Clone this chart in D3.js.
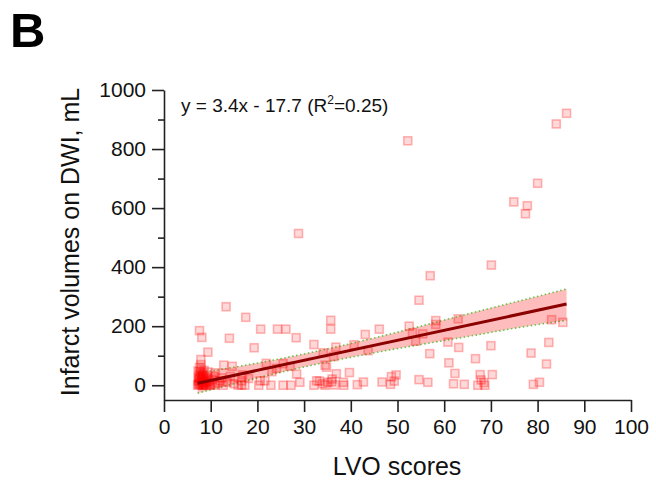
<!DOCTYPE html>
<html>
<head>
<meta charset="utf-8">
<script src="https://cdn.jsdelivr.net/npm/d3@7"></script>
<style>
  body { margin: 0; background: #fff; }
  svg { font-family: Arial, "Liberation Sans", sans-serif; }
</style>
</head>
<body>
<svg id="chart" width="656" height="487"></svg>
<script>
// LVO score (x) and infarct volume on DWI in mL (y)
const lvo = [
  86.2, 84.0, 52.2, 80.0, 74.9, 77.8, 77.4, 28.8, 70.1, 57.0,
  54.6, 13.3, 17.5, 63.0, 35.7, 58.2, 83.0, 85.4, 58.2, 52.5,
  7.6, 20.7, 24.3, 26.1, 35.7, 46.1, 43.1, 53.2, 55.4, 8.1,
  14.0, 28.3, 53.9, 60.8, 82.4, 32.1, 40.7, 70.0, 36.8, 63.1,
  19.3, 9.4, 34.1, 43.7, 78.6, 56.9, 36.3, 66.7, 7.9, 61.0,
  81.9, 21.9, 25.5, 12.8, 14.6, 27.0, 34.8, 34.5,
  62.3, 67.7, 70.3, 28.4, 36.9, 39.7, 49.7, 48.7, 16.8, 23.1,
  24.1, 18.1, 36.0, 54.6, 67.9, 29.1, 33.3, 35.1, 38.4, 42.7,
  46.7, 49.3, 56.5, 68.5, 80.4, 62.0, 34.0, 64.3, 79.1, 48.5,
  41.4, 36.5, 25.5, 27.2, 32.1, 34.5, 38.5, 67.2, 68.7, 10.9,
  12.7, 15.9, 16.6, 17.3, 20.3, 22.9, 12.0, 16.6, 20.6, 21.6,
  32.7, 35.9,
  7.2, 7.5, 7.8, 8.0, 8.2, 8.4, 7.4, 7.7, 8.0, 8.5,
  8.8, 9.0, 9.2, 9.6, 10.0, 7.3, 7.6, 8.3, 9.4, 10.3,
  10.8, 11.5, 12.3, 13.5, 14.2, 15.0, 7.9, 8.6, 9.8, 11.0,
  7.4, 7.7, 8.1, 8.4, 8.9, 7.5, 8.2, 9.1, 7.8, 8.7,
  7.3, 8.0, 9.5, 7.6, 8.4
];
const volume = [
  921, 885, 828, 684, 621, 608, 581, 514, 407, 371,
  288, 266, 230, 225, 220, 219, 222, 213, 206, 200,
  185, 190, 190, 190, 190, 190, 172, 178, 174, 162,
  159, 161, 149, 146, 145, 138, 137, 134, 129, 128,
  127, 112, 110, 117, 109, 107, 97, 90, 87, 76,
  72, 74, 73, 68, 64, 64, 61, 68,
  40, 36, 36, 38, 39, 43, 35, 29, 35, 46,
  57, 23, 21, 19, 18, 10, 14, 10, 10, 11,
  11, 14, 10, 9, 10, 5, 5, 3, 3, 3,
  2, 1, 0, 0, 0, 0, 0, 0, 0, 0,
  0, 0, 1, 0, 0, 0, 15, 15, 15, 15,
  15, 12,
  0, 5, 2, 10, 0, 20, 30, 45, 55, 35,
  8, 0, 25, 12, 4, 15, 60, 40, 45, 20,
  30, 8, 25, 10, 30, 5, 70, 50, 0, 42,
  3, 12, 18, 6, 14, 22, 28, 9, 38, 2,
  48, 33, 16, 25, 0
];

// fitted line and its confidence band
const fitX = [7.2, 86.2];
const fitY = [7, 275];
const bandX = [7.2, 15, 25, 35, 45, 55, 65, 75, 86.2];
const bandUpper = [41, 61, 90, 123, 160, 200, 241, 281, 326];
const bandLower = [-27, 5, 44, 79, 110, 138, 165, 193, 220];

const xTicks = [0, 10, 20, 30, 40, 50, 60, 70, 80, 90, 100];
const yTicks = [0, 200, 400, 600, 800, 1000];
const yMinorTicks = [100, 300, 500, 700, 900];

const svg = d3.select("#chart");

const x = d3.scaleLinear().domain([0, 100]).range([164, 631]);
const y = d3.scaleLinear().domain([-50, 1000]).range([400, 90]);

// panel letter
svg.append("text")
    .attr("x", 10)
    .attr("y", 47)
    .attr("font-size", "49px")
    .attr("font-weight", "bold")
    .text("B");

// confidence band
const band = bandX.map((d, i) => ({ x: d, lo: bandLower[i], hi: bandUpper[i] }));
svg.append("path")
    .datum(band)
    .attr("fill", "#ffb0b0")
    .attr("fill-opacity", 0.85)
    .attr("d", d3.area().x(d => x(d.x)).y0(d => y(d.lo)).y1(d => y(d.hi)).curve(d3.curveMonotoneX));

["hi", "lo"].forEach(k => {
    svg.append("path")
        .datum(band)
        .attr("fill", "none")
        .attr("stroke", "#6cc04a")
        .attr("stroke-width", 1.6)
        .attr("stroke-dasharray", "1.5,2.5")
        .attr("d", d3.line().x(d => x(d.x)).y(d => y(d[k])).curve(d3.curveMonotoneX));
});

// points
const pts = lvo.map((d, i) => ({ x: d, y: volume[i] }));
svg.append("g")
    .selectAll("rect")
    .data(pts)
    .enter().append("rect")
    .attr("x", d => x(d.x) - 4)
    .attr("y", d => y(d.y) - 4)
    .attr("width", 8)
    .attr("height", 8)
    .attr("fill", "red")
    .attr("fill-opacity", 0.15)
    .attr("stroke", "red")
    .attr("stroke-opacity", 0.28)
    .attr("stroke-width", 1.6);

// regression line
svg.append("path")
    .datum(fitX.map((d, i) => [d, fitY[i]]))
    .attr("fill", "none")
    .attr("stroke", "#8b0000")
    .attr("stroke-width", 3)
    .attr("d", d3.line().x(d => x(d[0])).y(d => y(d[1])));

// axes
const xAxis = svg.append("g")
    .attr("transform", "translate(0,400)")
    .call(d3.axisBottom(x).tickValues(xTicks).tickSize(12).tickPadding(7).tickSizeOuter(0));
const yAxis = svg.append("g")
    .attr("transform", "translate(164,0)")
    .call(d3.axisLeft(y).tickValues(yTicks).tickFormat(d3.format("d")).tickSize(12).tickPadding(6).tickSizeOuter(0));
svg.append("g")
    .attr("transform", "translate(164,0)")
    .call(d3.axisLeft(y).tickValues(yMinorTicks).tickSize(6).tickFormat("").tickSizeOuter(0))
    .select(".domain").remove();

[xAxis, yAxis].forEach(a => {
    a.selectAll("path").attr("stroke", "#222").attr("stroke-width", 1.6);
    a.selectAll("text").attr("font-size", "21px").attr("fill", "#111")
        .attr("font-family", "Arial, 'Liberation Sans', sans-serif");
});
svg.selectAll("g line").attr("stroke", "#222").attr("stroke-width", 1.6);

// axis titles
svg.append("text")
    .attr("x", 397)
    .attr("y", 475)
    .attr("text-anchor", "middle")
    .attr("font-size", "25px")
    .attr("fill", "#111")
    .text("LVO scores");

svg.append("text")
    .attr("transform", "translate(79,242) rotate(-90)")
    .attr("text-anchor", "middle")
    .attr("font-size", "25px")
    .attr("fill", "#111")
    .text("Infarct volumes on DWI, mL");

// equation
const eq = svg.append("text")
    .attr("x", 181)
    .attr("y", 112)
    .attr("font-size", "19px")
    .attr("fill", "#111");
eq.append("tspan").text("y = 3.4x - 17.7 (R");
eq.append("tspan").attr("font-size", "12px").attr("dy", -8).text("2");
eq.append("tspan").attr("dy", 8).text("=0.25)");
</script>
</body>
</html>
